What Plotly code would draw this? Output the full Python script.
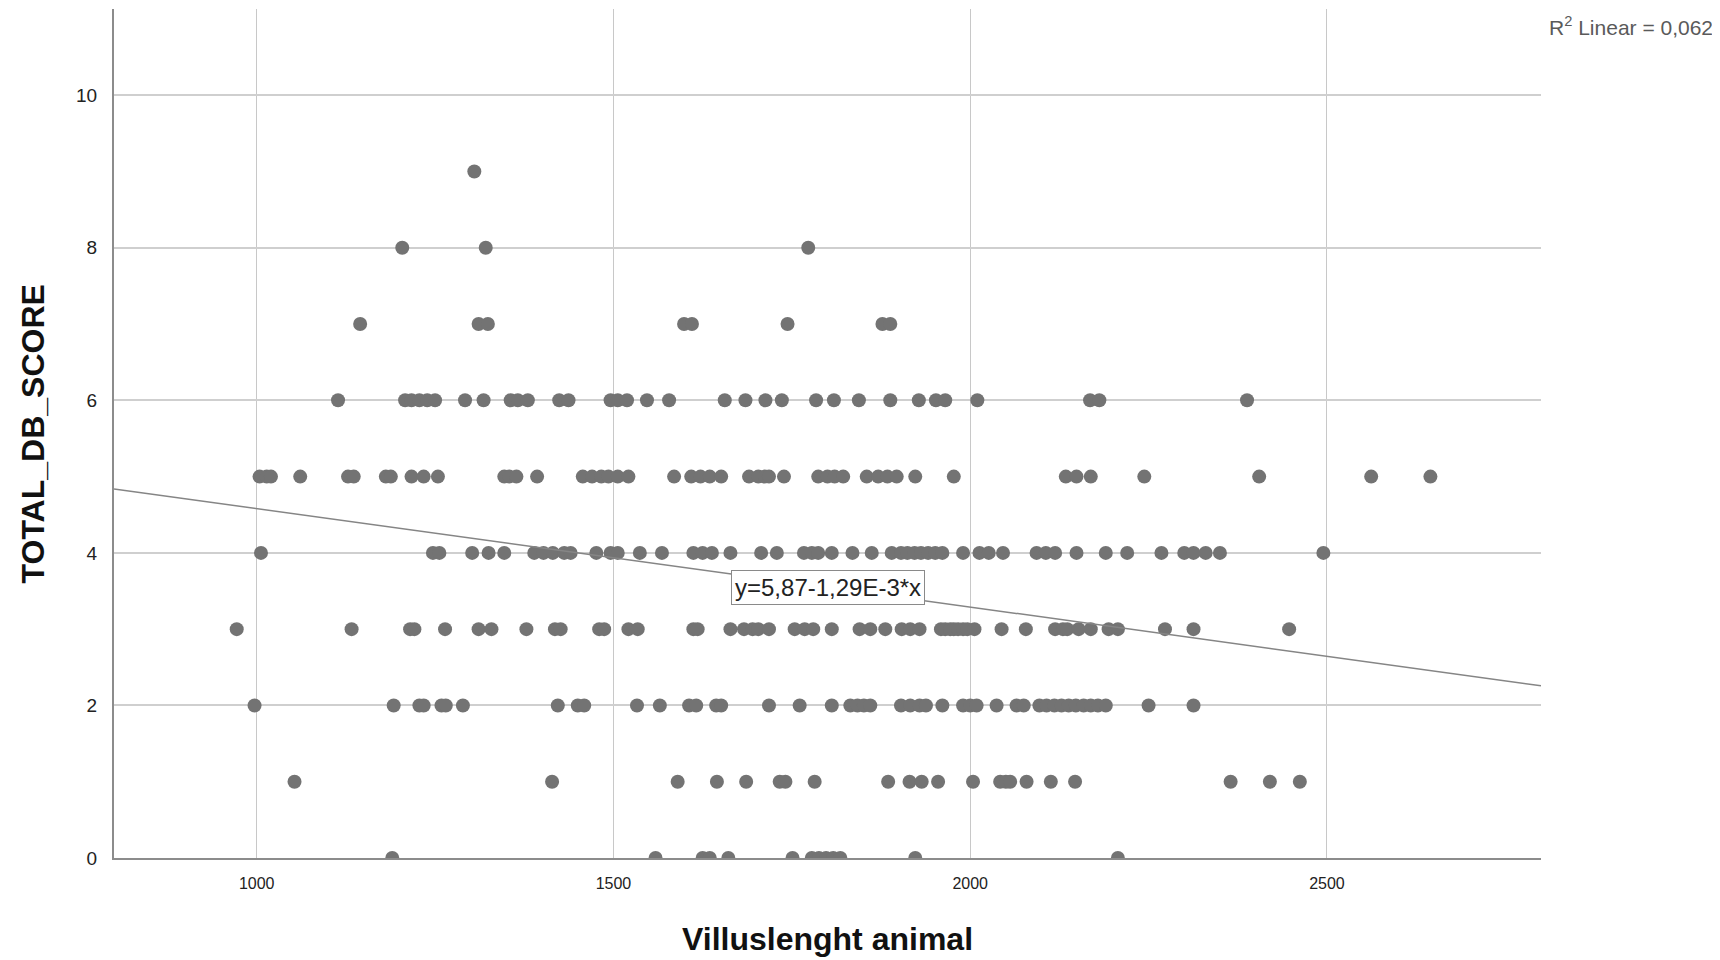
import plotly.graph_objects as go

# Villus length values for each TOTAL_DB_SCORE level
score_0 = [1190, 1559, 1625, 1635, 1661, 1751, 1778, 1788, 1798, 1808, 1818, 1923, 2207]
score_1 = [1053, 1414, 1590, 1645, 1686, 1733, 1741, 1782, 1885, 1915, 1932, 1955, 2004,
           2042, 2050, 2056, 2079, 2113, 2147, 2365, 2420, 2462]
score_2 = [997, 1192, 1228, 1234, 1259, 1265, 1289, 1422, 1450, 1459, 1533, 1565, 1606, 1616,
           1644, 1651, 1718, 1761, 1806, 1832, 1842, 1851, 1860, 1903, 1916, 1929, 1938, 1961,
           1990, 2000, 2009, 2037, 2065, 2075, 2097, 2107, 2118, 2128, 2138, 2148, 2159, 2169,
           2179, 2190, 2250, 2313]
score_3 = [972, 1133, 1215, 1221, 1264, 1311, 1329, 1378, 1418, 1426, 1480, 1487, 1521, 1534,
           1612, 1618, 1664, 1683, 1695, 1703, 1718, 1754, 1768, 1780, 1806, 1845, 1860, 1881,
           1904, 1916, 1929, 1959, 1965, 1972, 1977, 1983, 1990, 1996, 2006, 2044, 2078, 2119,
           2130, 2136, 2152, 2169, 2194, 2207, 2273, 2313, 2447]
score_4 = [1006, 1247, 1256, 1302, 1325, 1347, 1389, 1402, 1415, 1431, 1440, 1476, 1496, 1506,
           1537, 1568, 1612, 1625, 1638, 1664, 1707, 1729, 1767, 1778, 1787, 1806, 1835, 1862,
           1890, 1903, 1912, 1922, 1931, 1941, 1951, 1961, 1990, 2013, 2026, 2046, 2093, 2106,
           2119, 2149, 2190, 2220, 2268, 2300, 2313, 2330, 2350, 2495]
score_5 = [1004, 1014, 1020, 1061, 1128, 1136, 1181, 1188, 1217, 1234, 1254, 1347, 1354, 1364,
           1393, 1457, 1470, 1483, 1493, 1506, 1521, 1585, 1609, 1622, 1635, 1651, 1690, 1703,
           1712, 1718, 1739, 1787, 1800, 1810, 1822, 1855, 1871, 1884, 1897, 1923, 1977, 2134,
           2149, 2169, 2244, 2405, 2562, 2645]
score_6 = [1114, 1208, 1217, 1228, 1239, 1250, 1292, 1318, 1356, 1366, 1380, 1424, 1437, 1496,
           1506, 1519, 1547, 1578, 1656, 1685, 1713, 1736, 1784, 1809, 1844, 1888, 1928, 1952,
           1965, 2010, 2168, 2181, 2388]
score_7 = [1145, 1311, 1324, 1599, 1610, 1744, 1877, 1888]
score_8 = [1204, 1321, 1773]
score_9 = [1305]

rows = [score_0, score_1, score_2, score_3, score_4, score_5, score_6, score_7, score_8, score_9]

# Fit line as printed on chart
intercept = 5.87
slope = -1.29e-3
r2_text = "R<sup>2</sup> Linear = 0,062"
eq_text = "y=5,87-1,29E-3*x"

x_range = [800, 2800]
y_range = [0, 11.13]
x_ticks = [1000, 1500, 2000, 2500]
y_ticks = [0, 2, 4, 6, 8, 10]

xs, ys = [], []
for score, vals in enumerate(rows):
    xs.extend(vals)
    ys.extend([score] * len(vals))

fig = go.Figure()
fig.add_trace(go.Scatter(
    x=xs, y=ys, mode="markers",
    marker=dict(size=14, color="#737373", line=dict(width=0)),
    showlegend=False, hoverinfo="x+y"))

line_x = x_range
line_y = [intercept + slope * v for v in line_x]
fig.add_trace(go.Scatter(
    x=line_x, y=line_y, mode="lines",
    line=dict(color="#858585", width=1.5),
    showlegend=False, hoverinfo="skip"))

font_family = "Liberation Sans, Arial, sans-serif"

fig.update_layout(
    width=1720, height=960,
    margin=dict(l=106, r=187, t=1, b=110),
    paper_bgcolor="white", plot_bgcolor="white",
    font=dict(family=font_family, color="#222222"),
    xaxis=dict(range=x_range, tickvals=x_ticks, showgrid=True, gridcolor="#c8c8c8", gridwidth=1,
               showline=True, linecolor="#8c8c8c", linewidth=2, zeroline=False,
               ticks="outside", ticklen=10, tickcolor="rgba(0,0,0,0)",
               tickfont=dict(size=16, color="#222222")),
    yaxis=dict(range=y_range, tickvals=y_ticks, showgrid=True, gridcolor="#cfcfcf", gridwidth=1.5,
               showline=True, linecolor="#8c8c8c", linewidth=2, zeroline=False,
               ticks="outside", ticklen=11, tickcolor="rgba(0,0,0,0)",
               tickfont=dict(size=19, color="#222222")),
    annotations=[
        dict(text="<b>Villuslenght animal</b>", xref="paper", yref="paper",
             x=0.5, y=-0.0954, xanchor="center", yanchor="middle", showarrow=False,
             font=dict(size=32, color="#111111")),
        dict(text="<b>TOTAL_DB_SCORE</b>", xref="paper", yref="paper",
             x=-0.0568, y=0.5, xanchor="center", yanchor="middle", textangle=-90,
             showarrow=False, font=dict(size=32, color="#111111")),
        dict(text=r2_text, xref="paper", yref="paper",
             x=1.122, y=0.980, xanchor="right", yanchor="middle", showarrow=False,
             font=dict(size=21, color="#5a5a5a")),
        dict(text=eq_text, xref="x", yref="y",
             x=1800, y=intercept + slope * 1800, xanchor="center", yanchor="middle",
             showarrow=False, bgcolor="white", bordercolor="#8a8a8a", borderwidth=1,
             borderpad=3, font=dict(size=24, color="#222222")),
    ],
)

fig.write_html("out.html")
